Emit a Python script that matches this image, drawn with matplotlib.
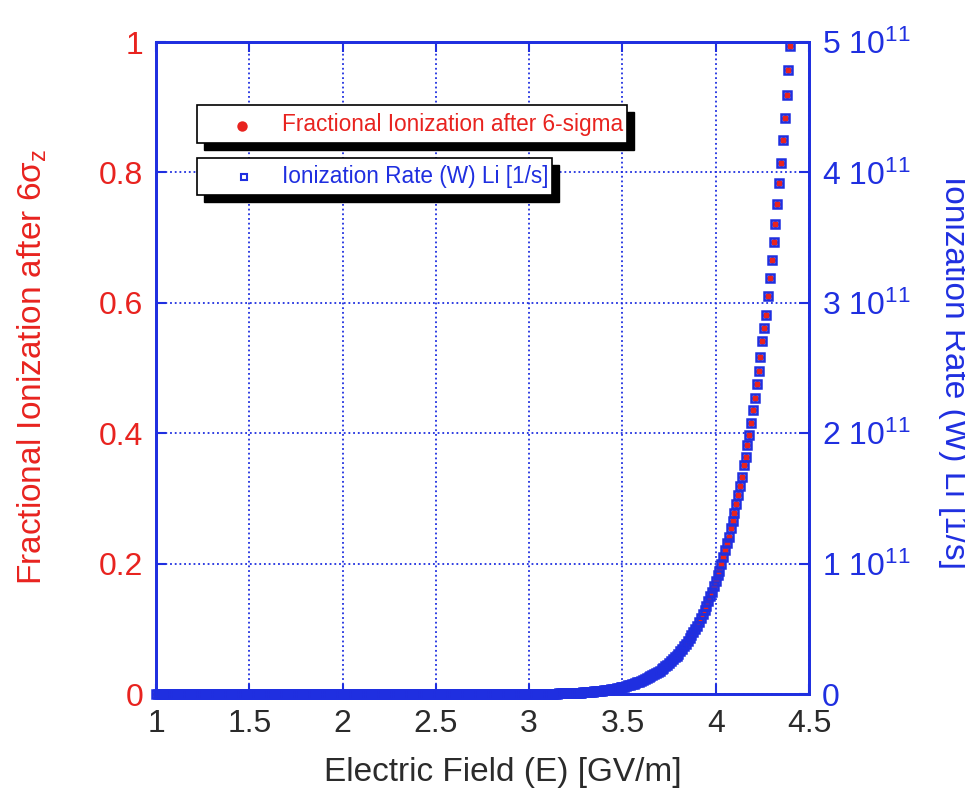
import matplotlib
matplotlib.use("Agg")
import matplotlib.pyplot as plt
from matplotlib.patches import Rectangle
from matplotlib.lines import Line2D
import numpy as np

plt.rcParams['font.family'] = ['Liberation Sans', 'DejaVu Sans']
plt.rcParams['mathtext.fontset'] = 'custom'
plt.rcParams['mathtext.rm'] = 'Liberation Sans'
plt.rcParams['mathtext.it'] = 'Liberation Sans:italic'

VERMELHO = '#e8231f'
AZUL = '#1f2fe0'
CINZA = '#2b2b2b'

# campo eletrico de 1.00 ate 4.40 GV/m, passo de 0.01
campo = np.round(np.arange(100, 441) / 100.0, 2)

# fracao ionizada, 1.00 .. 3.09 GV/m
fracaoBaixa = [
    0, 0, 0, 0, 0, 0, 0, 0, 0, 0, 0, 0, 0, 0, 0,
    0, 0, 0, 0, 0, 0, 0, 0, 0, 0, 0, 0, 0, 0, 0,
    0, 0, 0, 0, 0, 0, 0, 0, 0, 0, 0, 0, 0, 0, 0,
    0, 0, 0, 0, 0, 0, 0, 0, 0, 0, 0, 0, 0, 0, 0,
    0, 0, 0, 0, 0, 0, 0, 0, 0, 0, 0, 0, 0, 0, 0,
    0, 0, 0, 0, 0, 0, 0, 0, 0, 0, 0, 0, 0, 0, 0,
    0, 0, 0, 0, 0, 0, 0, 0, 0, 0, 0, 0, 0, 0, 0,
    0, 0, 0, 0, 0, 0, 0, 0, 0, 0, 0, 0, 0, 0, 0,
    0, 0, 0, 0, 0, 0, 0, 0, 0, 0, 0, 0, 0, 0, 0,
    0, 0, 0, 0, 0, 0, 0, 0, 0, 0, 0, 0, 0, 0, 0,
    0, 0, 0, 0, 0, 0, 0, 0, 0, 0, 0, 0, 0, 0, 0,
    0, 0, 0, 0, 0, 0, 0, 0, 0, 0, 0, 0, 0, 0, 0,
    0, 0, 0, 0, 0, 0, 0, 0, 0, 0, 0, 0, 0, 0, 0,
    0, 0, 0, 0, 0, 0, 0, 0, 0, 0, 0, 0, 0, 0, 0,
]

# fracao ionizada, 3.10 .. 4.40 GV/m
fracaoAlta = [
    0.0004, 0.0005, 0.0005, 0.0006, 0.0006, 0.0007, 0.0008, 0.0009, 0.0010, 0.0011,
    0.0012, 0.0013, 0.0014, 0.0015, 0.0016, 0.0018, 0.0019, 0.0021, 0.0023, 0.0025,
    0.0027, 0.0029, 0.0031, 0.0033, 0.0036, 0.0039, 0.0042, 0.0045, 0.0048, 0.0051,
    0.0055, 0.0059, 0.0063, 0.0068, 0.0073, 0.0078, 0.0083, 0.0089, 0.0095, 0.0101,
    0.0108, 0.0115, 0.0123, 0.0131, 0.0139, 0.0148, 0.0157, 0.0167, 0.0178, 0.0189,
    0.0201, 0.0213, 0.0226, 0.0240, 0.0254, 0.0269, 0.0286, 0.0302, 0.0320, 0.0339,
    0.0359, 0.0380, 0.0402, 0.0425, 0.0449, 0.0475, 0.050, 0.053, 0.056, 0.059,
    0.062, 0.066, 0.069, 0.073, 0.077, 0.081, 0.086, 0.090, 0.095, 0.100,
    0.105, 0.111, 0.117, 0.123, 0.129, 0.135, 0.142, 0.150, 0.157, 0.165,
    0.173, 0.182, 0.189, 0.200, 0.210, 0.221, 0.231, 0.241, 0.254, 0.266,
    0.278, 0.291, 0.305, 0.319, 0.333, 0.351, 0.363, 0.382, 0.398, 0.415,
    0.436, 0.454, 0.475, 0.495, 0.517, 0.541, 0.562, 0.582, 0.611, 0.638,
    0.666, 0.694, 0.721, 0.751, 0.783, 0.815, 0.849, 0.884, 0.919, 0.957,
    0.994,
]

fracao = fracaoBaixa + fracaoAlta

# taxa de ionizacao (W) do Li em 1/s, escala cheia 5e11
taxaMax = 5e11
taxa = [f * taxaMax for f in fracao]

ticksX = [1, 1.5, 2, 2.5, 3, 3.5, 4, 4.5]
rotulosX = ['1', '1.5', '2', '2.5', '3', '3.5', '4', '4.5']
ticksFracao = [0, 0.2, 0.4, 0.6, 0.8, 1]
rotulosFracao = ['0', '0.2', '0.4', '0.6', '0.8', '1']
ticksTaxa = [0, 1e11, 2e11, 3e11, 4e11, 5e11]
rotulosTaxa = ['0'] + [r'$\mathregular{%d\ 10^{11}}$' % k for k in range(1, 6)]

W, H = 965, 794


def fx(px):
    return px / W


def fy(py):
    return 1 - py / H


fig = plt.figure(figsize=(W / 100, H / 100), dpi=100)
ax = fig.add_axes([fx(156), fy(694), (809 - 156) / W, (694 - 42) / H])
ax2 = ax.twinx()

ax.plot(campo, fracao, 'o', color=VERMELHO, ms=5, mec=VERMELHO, mew=0,
        clip_on=False, zorder=3)
ax2.plot(campo, taxa, 's', ms=5.2, mfc='none', mec=AZUL, mew=1.8,
         clip_on=False, zorder=3)

ax.set_xlim(1, 4.5)
ax.set_ylim(0, 1)
ax2.set_ylim(0, taxaMax)

ax.set_xticks(ticksX)
ax.set_xticklabels(rotulosX)
ax.set_yticks(ticksFracao)
ax.set_yticklabels(rotulosFracao)
ax2.set_yticks(ticksTaxa)
ax2.set_yticklabels(rotulosTaxa)

ax.grid(True, color=AZUL, linestyle=(0, (1, 1.6)), linewidth=1.3)
ax.set_axisbelow(True)

ax.tick_params(axis='x', direction='in', length=7, width=1.5, color=AZUL,
               top=True, labelsize=23, labelcolor=CINZA, pad=11)
ax.tick_params(axis='y', direction='in', length=7, width=1.5, color=AZUL,
               labelsize=23, labelcolor=VERMELHO, pad=9)
ax2.tick_params(axis='y', direction='in', length=7, width=1.5, color=AZUL,
                labelsize=23, labelcolor=AZUL, pad=9)

for a in (ax, ax2):
    for s in a.spines.values():
        s.set_color(AZUL)
        s.set_linewidth(2)

# rotulos dos eixos
fig.text(fx(503), fy(772), 'Electric Field (E) [GV/m]', fontsize=24,
         color=CINZA, ha='center', va='center')
fig.text(fx(32), fy(367), r'Fractional Ionization after 6$\mathregular{\sigma_z}$',
         fontsize=24, color=VERMELHO, rotation=90, ha='center', va='center')
fig.text(fx(953), fy(372), 'Ionization Rate (W) Li [1/s]', fontsize=24,
         color=AZUL, rotation=-90, ha='center', va='center')


# legendas em caixas separadas com sombra
def caixa(x0, y0, x1, y1):
    sombra = Rectangle((fx(x0 + 7), fy(y1 + 7)), (x1 - x0) / W, (y1 - y0) / H,
                       transform=fig.transFigure, facecolor='black',
                       edgecolor='black', zorder=10)
    fundo = Rectangle((fx(x0), fy(y1)), (x1 - x0) / W, (y1 - y0) / H,
                      transform=fig.transFigure, facecolor='white',
                      edgecolor='black', linewidth=1.2, zorder=11)
    fig.add_artist(sombra)
    fig.add_artist(fundo)


caixa(197, 105, 627, 143)
caixa(197, 158, 552, 195)

fig.add_artist(Line2D([fx(242)], [fy(126)], marker='o', ms=7.5, color=VERMELHO,
                      mew=0, transform=fig.transFigure, zorder=12))
fig.add_artist(Line2D([fx(244)], [fy(177)], marker='s', ms=5, mfc='white',
                      mec=AZUL, mew=1.5, transform=fig.transFigure, zorder=12))
fig.text(fx(282), fy(125), 'Fractional Ionization after 6-sigma', fontsize=16.3,
         color=VERMELHO, ha='left', va='center', zorder=12)
fig.text(fx(282), fy(177), 'Ionization Rate (W) Li [1/s]', fontsize=16.3,
         color=AZUL, ha='left', va='center', zorder=12)

plt.savefig('out.png', dpi=100)
